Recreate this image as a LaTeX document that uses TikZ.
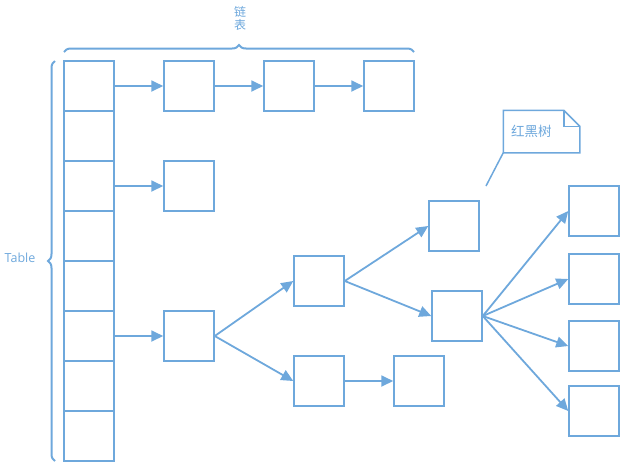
\documentclass[tikz,border=0pt]{standalone}
\usepackage{fontspec}
\setmainfont{Open Sans}
\newfontfamily\cjk{Noto Sans CJK SC}
\usepackage{xcolor}
\usetikzlibrary{arrows.meta, decorations.pathreplacing, calc}
\definecolor{lineblue}{RGB}{110,168,220}

\begin{document}
\begin{tikzpicture}[x=1pt, y=-1pt, every node/.style={rectangle, draw=lineblue, line width=1.5pt,
        inner sep=0pt, minimum size=50pt},
        link/.style={draw=lineblue, line width=1.8pt, -{Triangle[length=12pt, width=11pt]}},
        brc/.style={draw=lineblue, line width=2pt, decorate,
        decoration={brace, amplitude=7pt}}]
        \useasboundingbox (0,0) rectangle (624,467);

        % table column
        \node (T1) at (89,86) {};
        \node (T2) at (89,136) {};
        \node (T3) at (89,186) {};
        \node (T4) at (89,236) {};
        \node (T5) at (89,286) {};
        \node (T6) at (89,336) {};
        \node (T7) at (89,386) {};
        \node (T8) at (89,436) {};

        % linked lists
        \node (L1) at (189,86) {};
        \node (L2) at (289,86) {};
        \node (L3) at (389,86) {};
        \node (M1) at (189,186) {};

        % red-black tree
        \node (R) at (189,336) {};
        \node (A) at (319,281) {};
        \node (B) at (319,381) {};
        \node (C) at (419,381) {};
        \node (D) at (454,226) {};
        \node (E) at (457,316) {};
        \node (F) at (594,211) {};
        \node (G) at (594,279) {};
        \node (H) at (594,346) {};
        \node (K) at (594,411) {};

        \draw[link] (T1.east) -- (L1.west);
        \draw[link] (L1.east) -- (L2.west);
        \draw[link] (L2.east) -- (L3.west);
        \draw[link] (T3.east) -- (M1.west);
        \draw[link] (T6.east) -- (R.west);
        \draw[link] (R.east) -- (A.west);
        \draw[link] (R.east) -- (B.west);
        \draw[link] (B.east) -- (C.west);
        \draw[link] (A.east) -- (D.west);
        \draw[link] (A.east) -- (E.west);
        \draw[link] (E.east) -- (F.west);
        \draw[link] (E.east) -- (G.west);
        \draw[link] (E.east) -- (H.west);
        \draw[link] (E.east) -- (K.west);

        % braces and labels
        \draw[brc] (64,52) -- (414,52);
        \draw[brc] (55,461) -- (55,61);
        \node[draw=none, minimum size=0pt, text=lineblue, align=center,
            font=\cjk\fontsize{12}{13}\selectfont] (list) at (240,18) {链\\表};
        \node[draw=none, minimum size=0pt, text=lineblue,
            font=\fontsize{12.5}{14}\selectfont] (table) at (20,258) {Table};

        % note
        \node[draw=none, minimum width=75pt, minimum height=41pt, text width=61pt, align=left,
            text=lineblue, font=\cjk\fontsize{13.5}{15}\selectfont] (note) at (541.5,131.5) {红黑树};
        \coordinate (tip) at (486,186);
        \draw[lineblue, line width=1.5pt] (note.north west) -- ($(note.north east)+(-16,0)$)
            -- ($(note.north east)+(0,16)$) -- (note.south east) -- (note.south west) -- cycle;
        \draw[lineblue, line width=1.5pt] ($(note.north east)+(-16,0)$) -- ($(note.north east)+(-16,16)$)
            -- ($(note.north east)+(0,16)$);
        \draw[lineblue, line width=1.5pt] (note.south west) -- (tip);
    \end{tikzpicture}
\end{document}
